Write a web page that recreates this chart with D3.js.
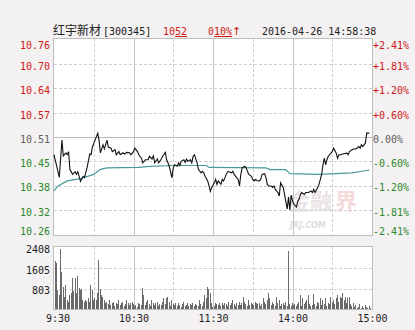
<!DOCTYPE html>
<html>
<head>
<meta charset="utf-8">
<script src="https://cdn.jsdelivr.net/npm/d3@7"></script>
<style>
  html, body { margin: 0; padding: 0; background: #f3f1f1; }
  svg { display: block; }
</style>
</head>
<body>
<svg id="chart" width="415" height="330"></svg>
<script>
// ---------- data ----------
const stockName = "红宇新材";
const stockCode = "[300345]";
const lastPriceText = "1052";
const changeText = "010%";
const dateTimeText = "2016-04-26 14:58:38";
const preClose = 10.51;

const priceTickLabels = ["10.76", "10.70", "10.64", "10.57", "10.51", "10.45", "10.38", "10.32", "10.26"];
const pctTickValues = [2.41, 1.81, 1.20, 0.60, 0.00, -0.60, -1.20, -1.81, -2.41];
const pctTickLabels = ["+2.41%", "+1.81%", "+1.20%", "+0.60%", "0.00%", "-0.60%", "-1.20%", "-1.81%", "-2.41%"];
const volTickValues = [2408, 1605, 803];
const timeTickValues = [0, 60, 120, 180, 240];
const timeTickLabels = ["9:30", "10:30", "11:30", "14:00", "15:00"];

// minute index from 9:30 (lunch break removed) and price
const priceMinutes = [0,4,6,7,9,10,11,12,14,16,17,18,20,22,23,25,27,28,29,31,33,34,35,37,38,40,41,43,44,46,47,49,50,52,53,55,57,58,60,61,63,64,66,67,69,71,72,74,75,76,78,79,81,82,84,85,86,87,89,90,91,93,94,95,96,98,99,100,101,103,104,105,106,108,109,111,112,113,114,116,117,118,119,121,122,123,124,126,127,128,130,131,132,134,135,136,138,139,140,141,142,144,145,146,147,149,150,151,152,154,155,156,157,159,160,161,162,164,165,166,167,169,170,171,173,174,176,177,178,179,180,181,183,184,185,186,187,189,190,192,194,195,196,197,199,200,201,202,203,204,205,206,207,209,210,211,213,214,215,216,218,221,222,223,225,226,228,230,231,232,233,235,236,238];
const priceValues = [10.464,10.405,10.502,10.461,10.469,10.464,10.472,10.426,10.413,10.420,10.413,10.420,10.395,10.408,10.405,10.431,10.466,10.464,10.484,10.502,10.520,10.502,10.469,10.490,10.479,10.502,10.484,10.481,10.472,10.477,10.464,10.472,10.464,10.469,10.466,10.470,10.469,10.464,10.472,10.481,10.472,10.464,10.455,10.443,10.451,10.451,10.460,10.453,10.461,10.443,10.453,10.443,10.453,10.460,10.470,10.451,10.443,10.434,10.404,10.430,10.438,10.434,10.443,10.436,10.447,10.451,10.444,10.453,10.447,10.451,10.443,10.460,10.464,10.443,10.426,10.417,10.421,10.417,10.408,10.396,10.383,10.369,10.379,10.391,10.400,10.387,10.396,10.387,10.400,10.396,10.413,10.420,10.420,10.417,10.421,10.413,10.404,10.400,10.383,10.413,10.430,10.434,10.430,10.421,10.413,10.408,10.400,10.396,10.400,10.396,10.396,10.400,10.413,10.415,10.404,10.387,10.383,10.383,10.379,10.383,10.374,10.366,10.357,10.391,10.379,10.361,10.323,10.354,10.321,10.359,10.344,10.336,10.328,10.344,10.349,10.361,10.366,10.361,10.366,10.366,10.370,10.366,10.374,10.366,10.379,10.387,10.400,10.413,10.438,10.455,10.438,10.451,10.460,10.468,10.472,10.481,10.468,10.455,10.464,10.464,10.466,10.468,10.464,10.472,10.477,10.479,10.479,10.485,10.481,10.490,10.485,10.494,10.520,10.520];

const avgMinutes = [0,3,10,20,30,35,40,64,72,90,115,117,160,163,175,178,200,225,236,238];
const avgValues = [10.370,10.383,10.396,10.402,10.413,10.426,10.430,10.431,10.434,10.436,10.436,10.431,10.430,10.4255,10.4255,10.415,10.413,10.417,10.423,10.424];

const volumes = [
1850,1790,750,560,2350,1460,880,490,950,360,300,560,620,1200,690,1200,620,1270,820,750,780,360,300,360,330,430,300,950,750,360,
430,360,620,1920,800,560,490,360,230,300,200,360,170,230,300,130,260,200,360,170,260,300,130,200,360,230,170,260,300,200,
130,170,100,230,200,170,820,560,170,300,360,200,130,360,260,170,230,300,130,200,170,300,430,200,430,490,300,130,360,200,
170,230,130,260,170,100,200,300,130,170,230,130,200,170,260,130,200,170,130,360,200,130,300,560,430,880,780,620,260,100,
130,230,200,170,260,130,230,170,260,200,130,300,170,230,360,200,130,260,170,300,170,230,490,300,200,130,360,170,230,200,
170,300,230,200,260,130,200,430,300,200,360,620,430,170,300,200,130,490,230,360,130,200,260,170,300,130,2270,200,130,230,
170,200,130,200,300,560,130,430,200,300,360,560,200,130,170,600,200,130,300,230,430,170,360,200,430,130,260,200,490,300,
360,200,430,560,300,490,430,620,360,490,230,430,490,200,130,230,100,170,60,100,200,60,130,60,170,100,60,130,60,0];

// ---------- layout ----------
const L = 54, R = 372;
const mainTop = 39.4, mainBottom = 234.6;
const volTop = 247, volBottom = 309.3;
const red = "#d01818", green = "#2a8a2a", gray = "#606060";
const mono = "'DejaVu Sans Mono', monospace";

const svg = d3.select("#chart");
svg.append("rect").attr("width", 415).attr("height", 330).attr("fill", "#f3f1f1");

const x = d3.scaleLinear().domain([0, 240]).range([L, R]);
const y = d3.scaleLinear()
  .domain([preClose * (1 - 0.0241), preClose * (1 + 0.0241)])
  .range([mainBottom, mainTop]);
const yPct = d3.scaleLinear().domain([-2.41, 2.41]).range([mainBottom, mainTop]);
const yVol = d3.scaleLinear().domain([0, 2408]).range([volBottom, volTop]);

const px = v => Math.round(v) + 0.5;

// panels
function panel(top, bottom) {
  svg.append("rect")
    .attr("x", L - 0.5).attr("y", Math.round(top) - 0.5)
    .attr("width", Math.round(R) - L + 1).attr("height", Math.round(bottom) - Math.round(top) + 1)
    .attr("fill", "#ffffff").attr("stroke", "#bdbdbd");
}
panel(mainTop, mainBottom);
panel(volTop, volBottom);

// watermark
const wm = svg.append("g").attr("pointer-events", "none");
wm.append("text").attr("x", 288).attr("y", 209)
  .attr("font-family", "'Noto Sans CJK SC'").attr("font-weight", "bold")
  .attr("font-size", 22).attr("fill", "#e9e3e3").text("金融");
wm.append("text").attr("x", 335).attr("y", 209)
  .attr("font-family", "'Noto Sans CJK SC'").attr("font-weight", "bold")
  .attr("font-size", 22).attr("fill", "#f6dada").text("界");
wm.append("text").attr("x", 290).attr("y", 228)
  .attr("font-family", "'DejaVu Sans'").attr("font-style", "italic").attr("font-weight", "bold")
  .attr("font-size", 8).attr("fill", "#e3dbdb").text("JRJ.COM");

// vertical grid
const vGrid = d3.range(30, 240, 30);
function vLines(top, bottom) {
  svg.append("g").selectAll("line").data(vGrid).join("line")
    .attr("x1", d => px(x(d))).attr("x2", d => px(x(d)))
    .attr("y1", Math.round(top)).attr("y2", Math.round(bottom))
    .attr("stroke", d => d % 60 === 0 ? "#c4c4c4" : "#cfcfcf")
    .attr("stroke-dasharray", d => d % 60 === 0 ? null : "3,2");
}
vLines(mainTop, mainBottom);
vLines(volTop, volBottom);

// horizontal grid (main)
const pctInner = pctTickValues.slice(1, -1);
svg.append("g").selectAll("line").data(pctInner).join("line")
  .attr("x1", L).attr("x2", R)
  .attr("y1", d => px(yPct(d))).attr("y2", d => px(yPct(d)))
  .attr("stroke", d => d === 0 ? "#bdbdbd" : "#cfcfcf")
  .attr("stroke-dasharray", d => d === 0 ? null : "3,2");

// horizontal grid (volume)
svg.append("g").selectAll("line").data(volTickValues.slice(1)).join("line")
  .attr("x1", L).attr("x2", R)
  .attr("y1", d => px(yVol(d))).attr("y2", d => px(yVol(d)))
  .attr("stroke", "#cfcfcf").attr("stroke-dasharray", "3,2");

// volume bars
svg.append("g").selectAll("rect").data(volumes).join("rect")
  .attr("x", (d, i) => Math.round(x(i + 0.5)))
  .attr("width", 1)
  .attr("y", d => Math.round(yVol(d)))
  .attr("height", d => Math.max(0, Math.round(volBottom) - Math.round(yVol(d))))
  .attr("fill", "#6a6a6a");

// average line
svg.append("path")
  .datum(avgMinutes.map((m, i) => [m, avgValues[i]]))
  .attr("fill", "none").attr("stroke", "#4a9a9a").attr("stroke-width", 1.2)
  .attr("d", d3.line().x(d => x(d[0])).y(d => y(d[1])));

// price line
svg.append("path")
  .datum(priceMinutes.map((m, i) => [m, priceValues[i]]))
  .attr("fill", "none").attr("stroke", "#111").attr("stroke-width", 1.1)
  .attr("d", d3.line().x(d => x(d[0])).y(d => y(d[1])));

// left price axis
const colorFor = v => v > 0 ? red : (v < 0 ? green : gray);
const leftAxis = svg.append("g").attr("transform", `translate(${L},0)`)
  .call(d3.axisLeft(yPct).tickValues(pctTickValues).tickSize(0).tickPadding(4)
    .tickFormat((d, i) => priceTickLabels[i]));
leftAxis.select(".domain").remove();
leftAxis.selectAll("text")
  .attr("font-family", mono).attr("font-size", 10)
  .attr("fill", d => colorFor(d))
  .attr("dy", (d, i) => i === 0 ? "0.96em" : (i === pctTickValues.length - 1 ? "0em" : "0.53em"));

const rightAxis = svg.append("g").attr("transform", `translate(${R},0)`)
  .call(d3.axisRight(yPct).tickValues(pctTickValues).tickSize(0).tickPadding(1)
    .tickFormat((d, i) => pctTickLabels[i]));
rightAxis.select(".domain").remove();
rightAxis.selectAll("text")
  .attr("font-family", mono).attr("font-size", 10)
  .attr("fill", d => colorFor(d))
  .attr("dy", (d, i) => i === 0 ? "0.96em" : (i === pctTickValues.length - 1 ? "0em" : "0.53em"));

// volume axis
const volAxis = svg.append("g").attr("transform", `translate(${L},0)`)
  .call(d3.axisLeft(yVol).tickValues(volTickValues).tickSize(0).tickPadding(4)
    .tickFormat(d3.format("d")));
volAxis.select(".domain").remove();
volAxis.selectAll("text")
  .attr("font-family", mono).attr("font-size", 10).attr("fill", "#222")
  .attr("dy", (d, i) => i === 0 ? "0.57em" : "0.53em");

// time axis
const timeAxis = svg.append("g").attr("transform", `translate(0,${volBottom})`)
  .call(d3.axisBottom(x).tickValues(timeTickValues).tickSize(0).tickPadding(6)
    .tickFormat((d, i) => timeTickLabels[i]));
timeAxis.select(".domain").remove();
timeAxis.selectAll("text")
  .attr("font-family", mono).attr("font-size", 10).attr("fill", "#222")
  .attr("dx", (d, i) => i === 0 ? 3.5 : 0);

// title
const title = svg.append("text").attr("x", 53).attr("y", 35).attr("fill", "#222");
title.append("tspan").attr("font-family", "'Noto Sans CJK SC'").attr("font-size", 12).text(stockName);
title.append("tspan").attr("dx", 2).attr("font-family", mono).attr("font-size", 10).text(stockCode);

const priceT = svg.append("text").attr("x", 163).attr("y", 35)
  .attr("font-family", mono).attr("font-size", 10).attr("fill", red);
priceT.append("tspan").text(lastPriceText.slice(0, 2));
priceT.append("tspan").style("text-decoration", "underline").text(lastPriceText.slice(2));

const chgT = svg.append("text").attr("x", 208).attr("y", 35)
  .attr("font-family", mono).attr("font-size", 10).attr("fill", red);
chgT.append("tspan").text(changeText.slice(0, 1));
chgT.append("tspan").style("text-decoration", "underline").text(changeText.slice(1));
chgT.append("tspan").attr("font-size", 11).attr("font-family", "'DejaVu Sans'").text("↑");

svg.append("text").attr("x", 262).attr("y", 35)
  .attr("font-family", mono).attr("font-size", 10).attr("fill", "#222")
  .text(dateTimeText);
</script>
</body>
</html>
